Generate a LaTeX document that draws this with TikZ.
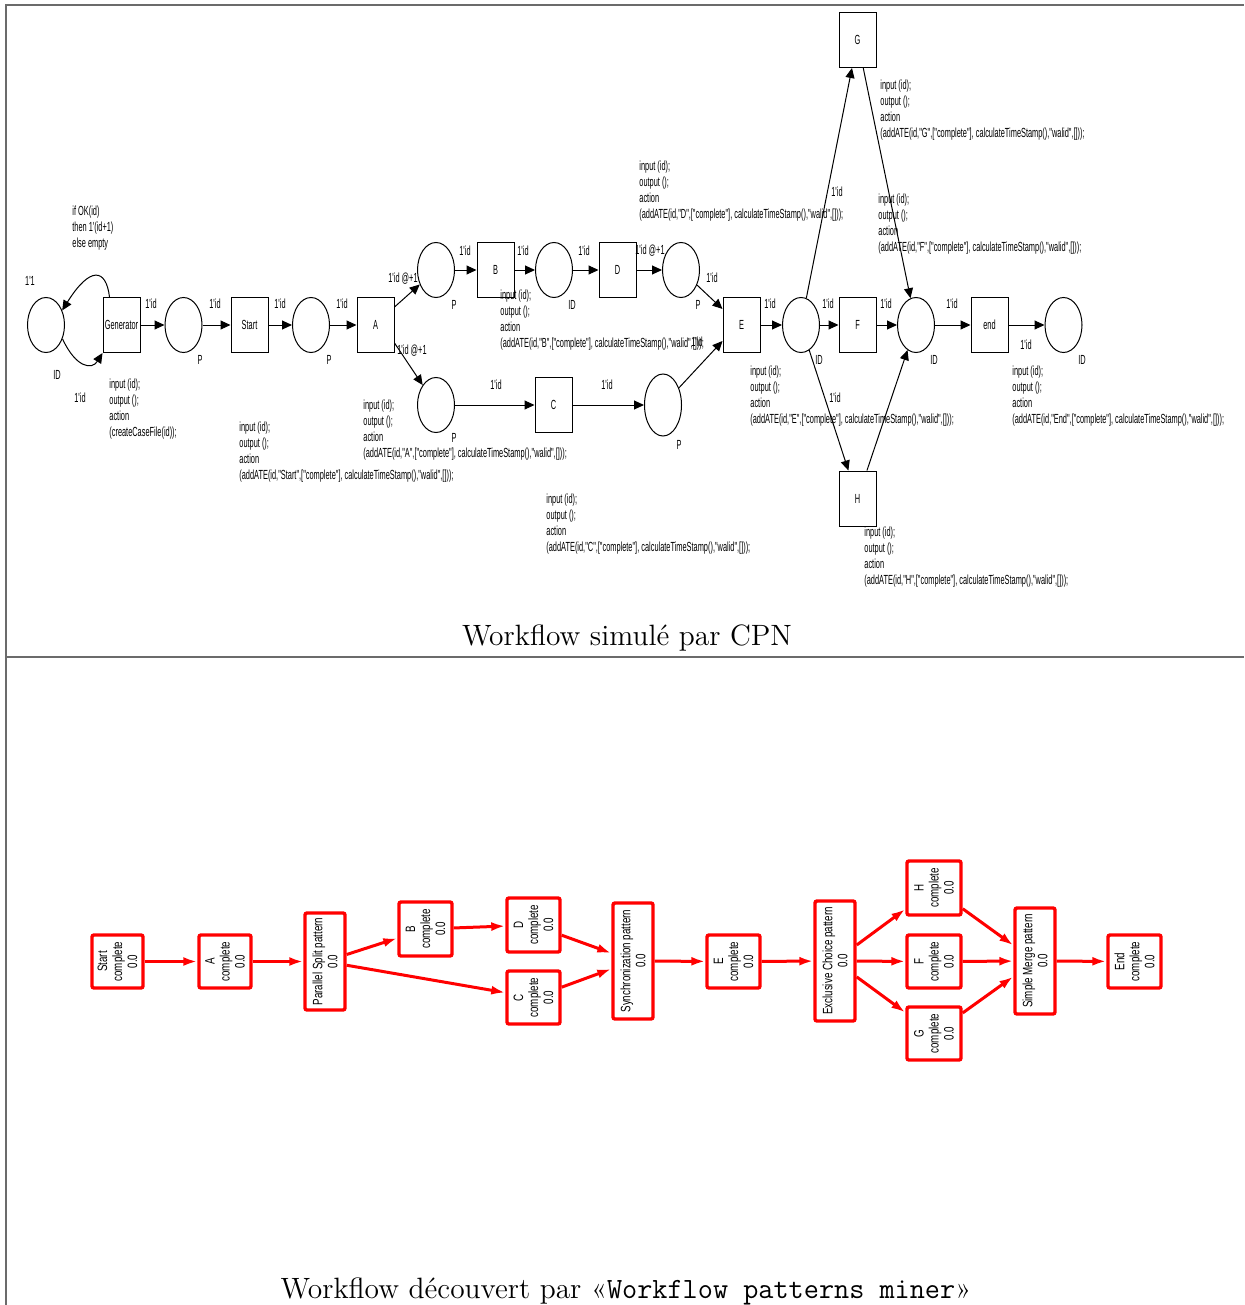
\documentclass[tikz,border=0pt]{standalone}
\usepackage{fontspec}
\newfontfamily\cpnfont[FakeStretch=0.56]{Liberation Sans}
\newfontfamily\wpfont[FakeStretch=0.72]{Liberation Sans}
\usetikzlibrary{arrows.meta,shapes.geometric,calc}
\tikzset{
 cpn/.style={font=\cpnfont\fontsize{6.6}{8}\selectfont},
 place/.style={ellipse, draw, line width=0.5pt, minimum width=18.5pt, minimum height=27.5pt, inner sep=0pt},
 trans/.style={rectangle, draw, line width=0.5pt, minimum width=18.5pt, minimum height=27.5pt, inner sep=0pt, cpn},
 arc/.style={line width=0.5pt, -{Triangle[length=5pt,width=4.5pt]}},
 lbl/.style={cpn, inner sep=0pt},
 code/.style={cpn, inner sep=0pt, align=left, anchor=north west},
 wbox/.style={draw=red, line width=1.7pt, rounded corners=1pt, rotate=90, align=center, inner sep=0pt, font=\wpfont\fontsize{6.8}{7.5}\selectfont},
 wedge/.style={draw=red, line width=1.5pt, -{Latex[length=7pt,width=4.5pt]}},
 frameline/.style={draw=black!58, line width=1pt},
 caption/.style={font=\fontsize{14.7}{17}\selectfont, inner sep=0pt},
}
\begin{document}
\begin{tikzpicture}[x=0.5pt, y=-0.5pt]
\useasboundingbox (0,0) rectangle (1244,1305);
% frame
\draw[frameline] (6,1305) -- (6,5) -- (1244,5);
\draw[frameline] (6,657) -- (1244,657);

% ---------------- CPN ----------------
\node[place] (id1) at (46,325) {};
\node[trans] (gen) at (121.5,325) {Generator};
\node[place] (p1) at (183.5,325) {};
\node[trans] (start) at (249.5,325) {Start};
\node[place] (p2) at (311,325) {};
\node[trans] (ta) at (375.5,325) {A};
\node[place] (p3) at (436,270) {};
\node[trans] (tb) at (495.5,270) {B};
\node[place] (p4) at (554,270) {};
\node[trans] (td) at (617.5,270) {D};
\node[place] (p5) at (681,270) {};
\node[place] (p6) at (436,405) {};
\node[trans] (tc) at (553.5,405) {C};
\node[place, minimum height=31pt] (p7) at (663,405) {};
\node[trans] (te) at (741.5,325) {E};
\node[place] (p8) at (801,325) {};
\node[trans] (tf) at (857.5,325) {F};
\node[place] (p9) at (916,325) {};
\node[trans] (tend) at (989.5,325) {end};
\node[place] (p10) at (1063.5,325) {};
\node[trans] (tg) at (857.5,40) {G};
\node[trans] (th) at (857.5,498.5) {H};

% arcs
\draw[arc] ([xshift=3.5pt]gen.north west) .. controls (106,268) and (90,266) .. (id1.42);
\draw[arc] (id1.-40) .. controls (76,368) and (92,370) .. (gen.south west);
\draw[arc] (gen) -- (p1);
\draw[arc] (p1) -- (start);
\draw[arc] (start) -- (p2);
\draw[arc] (p2) -- (ta);
\draw[arc] ([yshift=9pt]ta.east) -- (p3);
\draw[arc] ([yshift=-9pt]ta.east) -- (p6);
\draw[arc] (p3) -- (tb);
\draw[arc] (tb) -- (p4);
\draw[arc] (p4) -- (td);
\draw[arc] (td) -- (p5);
\draw[arc] (p5) -- ([yshift=8pt]te.west);
\draw[arc] (p6) -- (tc);
\draw[arc] (tc) -- (p7);
\draw[arc] (p7) -- ([yshift=-8pt]te.west);
\draw[arc] (te) -- (p8);
\draw[arc] (p8) -- (tf);
\draw[arc] (tf) -- (p9);
\draw[arc] (p9) -- (tend);
\draw[arc] (tend) -- (p10);
\draw[arc] (p8) -- (tg);
\draw[arc] (tg) -- (p9);
\draw[arc] (p8) -- (th);
\draw[arc] (th) -- (p9);

% arc and place labels
\node[lbl] (l1) at (30,281) {1'1};
\node[code] (guard) at (72,206) {if OK(id)\\then 1'(id+1)\\else empty};
\node[lbl] (l2) at (57,375) {ID};
\node[lbl] (l3) at (80,398) {1'id};
\node[lbl] (l4) at (151,304) {1'id};
\node[lbl] (l5) at (200,360) {P};
\node[lbl] (l6) at (215,304) {1'id};
\node[lbl] (l7) at (280,304) {1'id};
\node[lbl] (l8) at (329,360) {P};
\node[lbl] (l9) at (342,304) {1'id};
\node[lbl] (l10) at (403,279) {1'id @+1};
\node[lbl] (l11) at (412,351) {1'id @+1};
\node[lbl] (l12) at (454,305) {P};
\node[lbl] (l13) at (465,251) {1'id};
\node[lbl] (l14) at (523,251) {1'id};
\node[lbl] (l15) at (572,305) {ID};
\node[lbl] (l16) at (584,251) {1'id};
\node[lbl] (l17) at (650,251) {1'id @+1};
\node[lbl] (l18) at (698,305) {P};
\node[lbl] (l19) at (712,278) {1'id};
\node[lbl] (l20) at (697,342) {1'id};
\node[lbl] (l21) at (454,438) {P};
\node[lbl] (l22) at (496,385) {1'id};
\node[lbl] (l23) at (607,385) {1'id};
\node[lbl] (l24) at (679,445) {P};
\node[lbl] (l25) at (770,304) {1'id};
\node[lbl] (l26) at (819,360) {ID};
\node[lbl] (l27) at (828,304) {1'id};
\node[lbl] (l28) at (837,192) {1'id};
\node[lbl] (l29) at (835,398) {1'id};
\node[lbl] (l30) at (886,304) {1'id};
\node[lbl] (l31) at (934,360) {ID};
\node[lbl] (l32) at (952,304) {1'id};
\node[lbl] (l33) at (1026,345) {1'id};
\node[lbl] (l34) at (1082,360) {ID};

% code inscriptions
\node[code] (cgen) at (109,379) {input (id);\\output ();\\action\\(createCaseFile(id));};
\node[code] (cstart) at (239,422) {input (id);\\output ();\\action\\(addATE(id,"Start",["complete"], calculateTimeStamp(),"walid",[]));};
\node[code] (ca) at (363,400) {input (id);\\output ();\\action\\(addATE(id,"A",["complete"], calculateTimeStamp(),"walid",[]));};
\node[code] (cb) at (500,290) {input (id);\\output ();\\action\\(addATE(id,"B",["complete"], calculateTimeStamp(),"walid",[]));};
\node[code] (cd) at (639,161) {input (id);\\output ();\\action\\(addATE(id,"D",["complete"], calculateTimeStamp(),"walid",[]));};
\node[code] (cc) at (546,494) {input (id);\\output ();\\action\\(addATE(id,"C",["complete"], calculateTimeStamp(),"walid",[]));};
\node[code] (ce) at (750,366) {input (id);\\output ();\\action\\(addATE(id,"E",["complete"], calculateTimeStamp(),"walid",[]));};
\node[code] (cg) at (880,80) {input (id);\\output ();\\action\\(addATE(id,"G",["complete"], calculateTimeStamp(),"walid",[]));};
\node[code] (cf) at (878,194) {input (id);\\output ();\\action\\(addATE(id,"F",["complete"], calculateTimeStamp(),"walid",[]));};
\node[code] (ch) at (864,527) {input (id);\\output ();\\action\\(addATE(id,"H",["complete"], calculateTimeStamp(),"walid",[]));};
\node[code] (cend) at (1012,366) {input (id);\\output ();\\action\\(addATE(id,"End",["complete"], calculateTimeStamp(),"walid",[]));};

\node[caption] (cap1) at (627,638) {Workflow simulé par CPN};

% ---------------- discovered workflow ----------------
\node[wbox, minimum width=26.5pt, minimum height=25.5pt] (w1) at (117.5,961.5) {Start\\complete\\0.0};
\node[wbox, minimum width=26.5pt, minimum height=26pt] (w2) at (225,961.5) {A\\complete\\0.0};
\node[wbox, minimum width=48.5pt, minimum height=20pt] (w3) at (325,961.5) {Parallel Split pattern\\0.0};
\node[wbox, minimum width=27pt, minimum height=26.5pt] (w4) at (425.5,929) {B\\complete\\0.0};
\node[wbox, minimum width=27pt, minimum height=26.5pt] (w5) at (533.5,925) {D\\complete\\0.0};
\node[wbox, minimum width=26.5pt, minimum height=26.5pt] (w6) at (533.5,997.5) {C\\complete\\0.0};
\node[wbox, minimum width=58pt, minimum height=20pt] (w7) at (633,961) {Synchronization pattern\\0.0};
\node[wbox, minimum width=26.5pt, minimum height=26.5pt] (w8) at (733.5,961.5) {E\\complete\\0.0};
\node[wbox, minimum width=60pt, minimum height=20pt] (w9) at (835,961) {Exclusive Choice pattern\\0.0};
\node[wbox, minimum width=27pt, minimum height=27pt] (w10) at (934,888) {H\\complete\\0.0};
\node[wbox, minimum width=26.5pt, minimum height=27pt] (w11) at (934,961.5) {F\\complete\\0.0};
\node[wbox, minimum width=26.5pt, minimum height=27pt] (w12) at (934,1033.5) {G\\complete\\0.0};
\node[wbox, minimum width=53pt, minimum height=20pt] (w13) at (1035,961) {Simple Merge pattern\\0.0};
\node[wbox, minimum width=26.5pt, minimum height=26.5pt] (w14) at (1134.5,961.5) {End\\complete\\0.0};

\draw[wedge] (w1) -- (w2);
\draw[wedge] (w2) -- (w3);
\draw[wedge] (w3) -- (w4);
\draw[wedge] (w3) -- (w6);
\draw[wedge] (w4) -- (w5);
\draw[wedge] (w5) -- (w7);
\draw[wedge] (w6) -- (w7);
\draw[wedge] (w7) -- (w8);
\draw[wedge] (w8) -- (w9);
\draw[wedge] (w9) -- (w10);
\draw[wedge] (w9) -- (w11);
\draw[wedge] (w9) -- (w12);
\draw[wedge] (w10) -- (w13);
\draw[wedge] (w11) -- (w13);
\draw[wedge] (w12) -- (w13);
\draw[wedge] (w13) -- (w14);

\node[caption] (cap2) at (626,1291) {Workflow découvert par «\texttt{Workflow patterns miner}»};
\end{tikzpicture}
\end{document}
